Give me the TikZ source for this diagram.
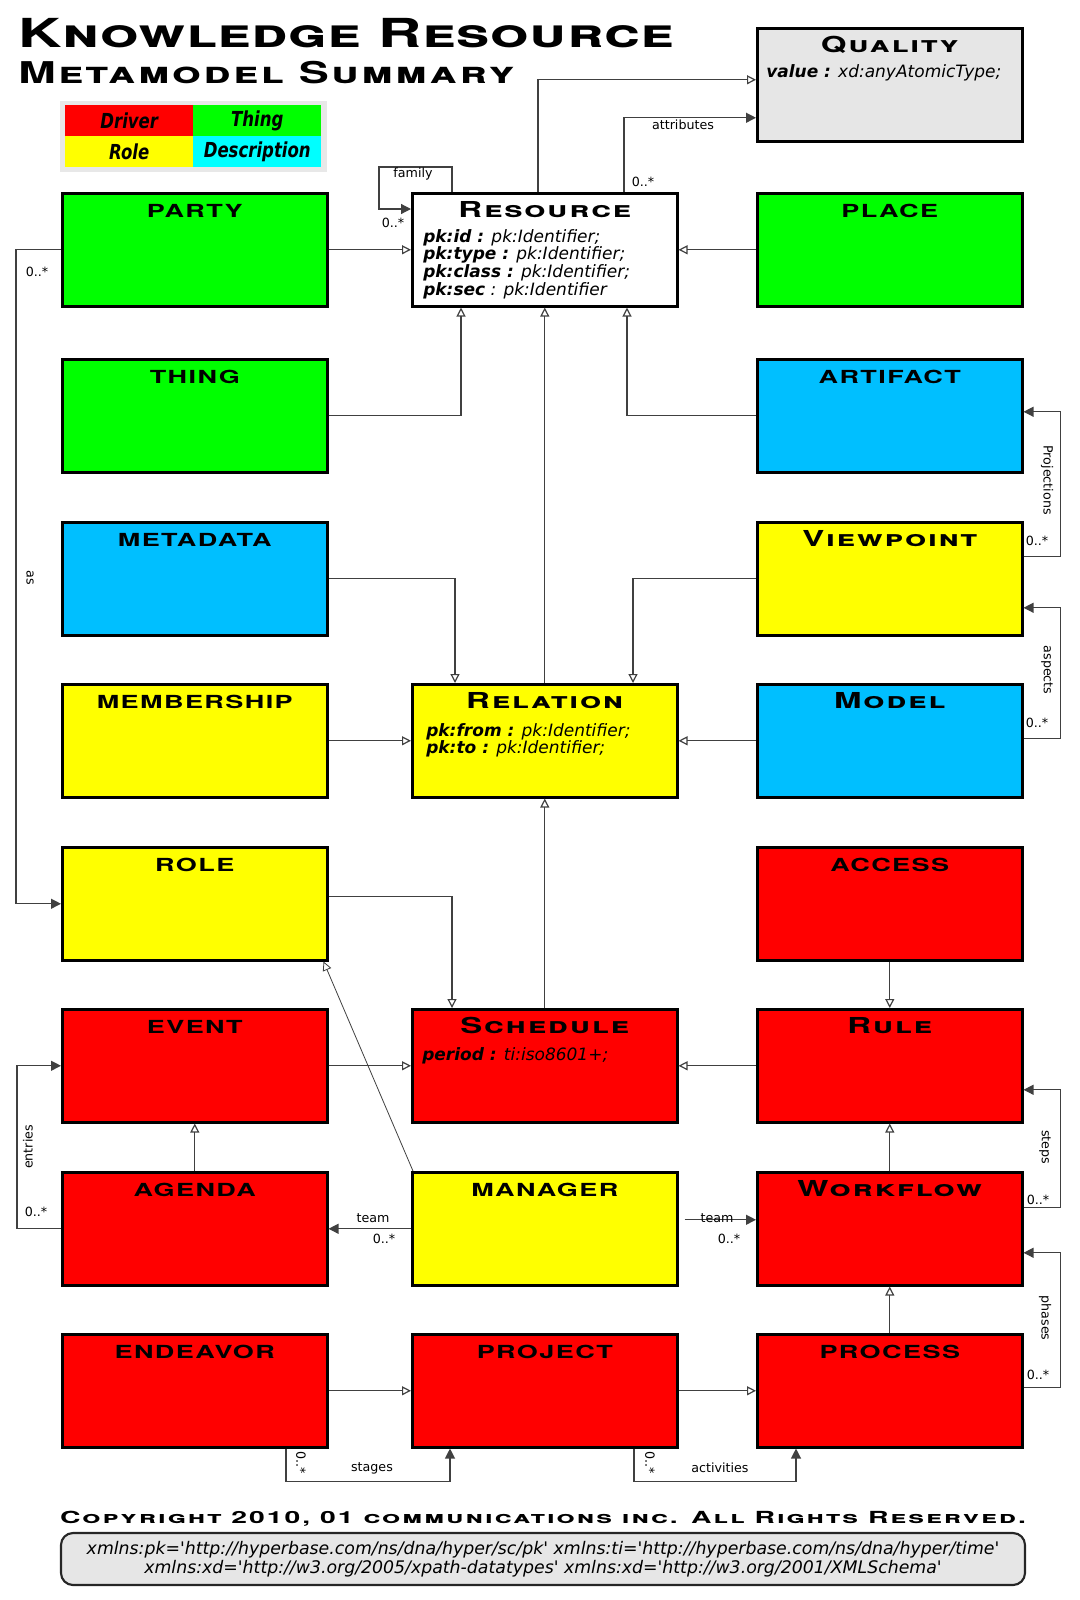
\documentclass[tikz,border=0pt]{standalone}
\usepackage{fontspec}
\setmainfont{DejaVu Sans}
\newfontfamily\widefont[FakeStretch=1.5,LetterSpace=8]{TeX Gyre Heros}
\newfontfamily\titlefont[FakeStretch=1.5,LetterSpace=1.5]{TeX Gyre Heros}
\newfontfamily\copyfont[FakeStretch=1.7,LetterSpace=12]{TeX Gyre Heros}
\newfontfamily\legendfont[FakeStretch=0.8]{DejaVu Sans}
\usetikzlibrary{arrows.meta,calc}
\definecolor{drvred}{HTML}{FF0000}
\definecolor{thggreen}{HTML}{00FF00}
\definecolor{rolyellow}{HTML}{FFFF00}
\definecolor{dscblue}{HTML}{00BFFF}
\definecolor{dsccyan}{HTML}{00FFFF}
\definecolor{qlgray}{HTML}{E6E6E6}
\newcommand\q{\textquotesingle}
\begin{document}
\begin{tikzpicture}[x=0.75pt,y=-0.75pt,
  box/.style={draw=black,line width=1.9pt,anchor=north west,minimum width=198.75pt,minimum height=84.75pt,inner sep=0pt},
  ttl/.style={anchor=base,yshift=-18.75pt,inner sep=0pt,font=\widefont\bfseries\fontsize{13.5}{14}\selectfont},
  sttl/.style={ttl,font=\widefont\bfseries\scshape\fontsize{16.5}{17}\selectfont},
  attr/.style={anchor=north west,align=left,inner sep=0pt,font=\itshape\fontsize{12.75}{12.2}\selectfont},
  legcell/.style={anchor=north west,minimum width=96pt,minimum height=23.25pt,inner sep=0pt,font=\legendfont\bfseries\itshape\fontsize{15.5}{15.5}\selectfont},
  lbl/.style={inner sep=0pt,font=\fontsize{9.5}{10}\selectfont},
  gen/.style={draw=black!75,line width=0.9pt,-{Triangle[open,length=6.75pt,width=6.75pt]}},
  assoc/.style={draw=black!75,line width=0.9pt,-{Triangle[length=7.5pt,width=7.5pt]}}]
  \useasboundingbox (0,0) rectangle (1080,1600);
  % Titel
  \node[anchor=base west,inner sep=0pt,font=\titlefont\bfseries\scshape\fontsize{30}{30}\selectfont] (title) at (18,47) {Knowledge Resource};
  \node[anchor=base west,inner sep=0pt,font=\widefont\bfseries\scshape\fontsize{22.5}{22.5}\selectfont] (subtitle) at (18,83) {Metamodel Summary};
  % Legende
  \node[fill=qlgray!90,anchor=north west,minimum width=200.25pt,minimum height=53.25pt,inner sep=0pt] (legend) at (60,101) {};
  \node[legcell,fill=drvred] (lg-driver) at (65,105) {Driver};
  \node[legcell,fill=thggreen] (lg-thing) at (193,105) {Thing};
  \node[legcell,fill=rolyellow] (lg-role) at (65,136) {Role};
  \node[legcell,fill=dsccyan] (lg-desc) at (193,136) {Description};
  % Klassen
  \node[box,fill=qlgray,label={[sttl]north:Quality}] (quality) at (756,27) {};
  \node[box,fill=white,label={[sttl]north:Resource}] (resource) at (411,192) {};
  \node[box,fill=thggreen,label={[ttl]north:PARTY}] (party) at (61,192) {};
  \node[box,fill=thggreen,label={[ttl]north:PLACE}] (place) at (756,192) {};
  \node[box,fill=thggreen,label={[ttl]north:THING}] (thing) at (61,358) {};
  \node[box,fill=dscblue,label={[ttl]north:ARTIFACT}] (artifact) at (756,358) {};
  \node[box,fill=dscblue,label={[ttl]north:METADATA}] (metadata) at (61,521) {};
  \node[box,fill=rolyellow,label={[sttl]north:Viewpoint}] (viewpoint) at (756,521) {};
  \node[box,fill=rolyellow,label={[ttl]north:MEMBERSHIP}] (membership) at (61,683) {};
  \node[box,fill=rolyellow,label={[sttl]north:Relation}] (relation) at (411,683) {};
  \node[box,fill=dscblue,label={[sttl]north:Model}] (model) at (756,683) {};
  \node[box,fill=rolyellow,label={[ttl]north:ROLE}] (role) at (61,846) {};
  \node[box,fill=drvred,label={[ttl]north:ACCESS}] (access) at (756,846) {};
  \node[box,fill=drvred,label={[ttl]north:EVENT}] (event) at (61,1008) {};
  \node[box,fill=drvred,label={[sttl]north:Schedule}] (schedule) at (411,1008) {};
  \node[box,fill=drvred,label={[sttl]north:Rule}] (rule) at (756,1008) {};
  \node[box,fill=drvred,label={[ttl]north:AGENDA}] (agenda) at (61,1171) {};
  \node[box,fill=rolyellow,label={[ttl]north:MANAGER}] (manager) at (411,1171) {};
  \node[box,fill=drvred,label={[sttl]north:Workflow}] (workflow) at (756,1171) {};
  \node[box,fill=drvred,label={[ttl]north:ENDEAVOR}] (endeavor) at (61,1333) {};
  \node[box,fill=drvred,label={[ttl]north:PROJECT}] (project) at (411,1333) {};
  \node[box,fill=drvred,label={[ttl]north:PROCESS}] (process) at (756,1333) {};
  % Attribute
  \node[attr] (quality-a) at (766,64) {\textbf{value :} xd:anyAtomicType;};
  \node[attr] (resource-a) at (423,229) {\textbf{pk:id :} pk:Identifier;\\\textbf{pk:type :} pk:Identifier;\\\textbf{pk:class :} pk:Identifier;\\\textbf{pk:sec} : pk:Identifier};
  \node[attr] (relation-a) at (426,723) {\textbf{pk:from :} pk:Identifier;\\\textbf{pk:to :} pk:Identifier;};
  \node[attr] (schedule-a) at (422,1047) {\textbf{period :} ti:iso8601+;};
  % Vererbung
  \draw[gen] ($(resource.north west)+(127,0)$) |- ($(quality.west)+(0,-5)$);
  \draw[gen] (party.east) -- (resource.west);
  \draw[gen] (place.west) -- (resource.east);
  \draw[gen] (thing.east) -| ($(resource.south west)+(50,0)$);
  \draw[gen] (relation.north) -- (resource.south);
  \draw[gen] (artifact.west) -| ($(resource.south west)+(216,0)$);
  \draw[gen] (metadata.east) -| ($(relation.north west)+(44,0)$);
  \draw[gen] (viewpoint.west) -| ($(relation.north west)+(222,0)$);
  \draw[gen] (membership.east) -- (relation.west);
  \draw[gen] (model.west) -- (relation.east);
  \draw[gen] (schedule.north) -- (relation.south);
  \draw[gen] ($(role.east)+(0,-7)$) -| ($(schedule.north west)+(41,0)$);
  \draw[gen] (access.south) -- (rule.north);
  \draw[gen,line width=0.6pt] ($(manager.north west)+(2,0)$) -- ($(role.south east)+(-5,0)$);
  \draw[gen] (event.east) -- (schedule.west);
  \draw[gen] (rule.west) -- (schedule.east);
  \draw[gen] (agenda.north) -- (event.south);
  \draw[gen] (workflow.north) -- (rule.south);
  \draw[gen] (process.north) -- (workflow.south);
  \draw[gen] (endeavor.east) -- (project.west);
  \draw[gen] (project.east) -- (process.west);
  % Assoziationen
  \draw[assoc] ($(resource.north west)+(213,0)$) |- ($(quality.west)+(0,33)$);
  \draw[assoc] ($(resource.north west)+(41,0)$) |- ($(resource.north west)+(-32,-25)$) |- ($(resource.north west)+(0,17)$);
  \draw[assoc] (party.west) -- ++(-45,0) |- (role.west);
  \draw[assoc] (agenda.west) -- ++(-44,0) |- (event.west);
  \draw[assoc] (manager.west) -- (agenda.east);
  \draw[assoc] ($(manager.east)+(6,-9)$) -- ($(workflow.west)+(0,-9)$);
  \draw[assoc] ($(viewpoint.east)+(0,-22)$) -- ++(37,0) |- ($(artifact.east)+(0,-4)$);
  \draw[assoc] ($(model.east)+(0,-2)$) -- ++(37,0) |- ($(viewpoint.east)+(0,29)$);
  \draw[assoc] ($(workflow.east)+(0,-21)$) -- ++(37,0) |- ($(rule.east)+(0,24)$);
  \draw[assoc] ($(process.east)+(0,-3)$) -- ++(37,0) |- ($(workflow.east)+(0,24)$);
  \draw[assoc] ($(endeavor.south west)+(225,0)$) -- ++(0,33) -| ($(project.south west)+(39,0)$);
  \draw[assoc] ($(project.south west)+(223,0)$) -- ++(0,33) -| ($(process.south west)+(40,0)$);
  % Beschriftungen
  \node[lbl] (l-family) at (413,174) {family};
  \node[lbl] (m-family) at (393,223) {0..*};
  \node[lbl] (l-attr) at (683,125) {attributes};
  \node[lbl] (m-attr) at (643,182) {0..*};
  \node[lbl,rotate=-90] (l-as) at (30,578) {as};
  \node[lbl] (m-as) at (37,272) {0..*};
  \node[lbl,rotate=90] (l-entries) at (28,1147) {entries};
  \node[lbl] (m-entries) at (36,1212) {0..*};
  \node[lbl] (l-team1) at (373,1218) {team};
  \node[lbl] (m-team1) at (384,1239) {0..*};
  \node[lbl] (l-team2) at (717,1218) {team};
  \node[lbl] (m-team2) at (729,1239) {0..*};
  \node[lbl,rotate=-90] (l-proj) at (1047,480) {Projections};
  \node[lbl] (m-proj) at (1037,541) {0..*};
  \node[lbl,rotate=-90] (l-aspects) at (1047,670) {aspects};
  \node[lbl] (m-aspects) at (1037,723) {0..*};
  \node[lbl,rotate=-90] (l-steps) at (1045,1147) {steps};
  \node[lbl] (m-steps) at (1038,1200) {0..*};
  \node[lbl,rotate=-90] (l-phases) at (1045,1318) {phases};
  \node[lbl] (m-phases) at (1038,1375) {0..*};
  \node[lbl] (l-stages) at (372,1468) {stages};
  \node[lbl,rotate=-90] (m-stages) at (301,1463) {0..*};
  \node[lbl] (l-activities) at (720,1468) {activities};
  \node[lbl,rotate=-90] (m-activities) at (650,1463) {0..*};
  % Fusszeile
  \node[anchor=base,inner sep=0pt,font=\copyfont\bfseries\scshape\fontsize{12.5}{13}\selectfont] (copyright) at (543,1523) {Copyright 2010, 01 communications inc. All Rights Reserved.};
  \node[draw=black!85,line width=1.6pt,fill=qlgray,rounded corners=9pt,minimum width=723pt,minimum height=39pt,inner sep=0pt,align=center,font=\itshape\fontsize{13}{13.8}\selectfont] (ns) at (543,1559) {xmlns:pk=\q http://hyperbase.com/ns/dna/hyper/sc/pk\q{} xmlns:ti=\q http://hyperbase.com/ns/dna/hyper/time\q\\xmlns:xd=\q http://w3.org/2005/xpath-datatypes\q{} xmlns:xd=\q http://w3.org/2001/XMLSchema\q};
\end{tikzpicture}
\end{document}
